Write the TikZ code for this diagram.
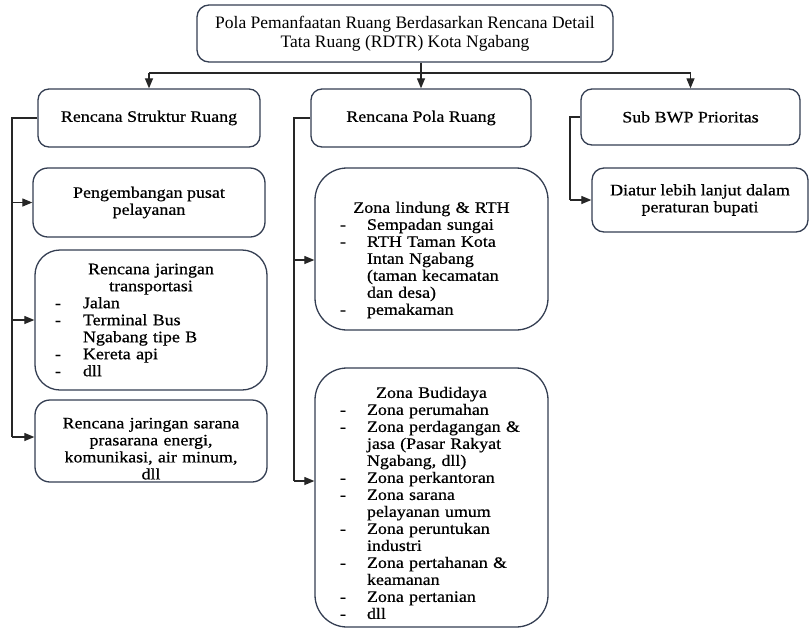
\documentclass[tikz,border=0pt]{standalone}
\usepackage{fontspec}
\setmainfont{Liberation Serif}
\newfontfamily\wf[FakeStretch=1.12,FakeBold=0.6]{Liberation Serif}
\usetikzlibrary{arrows.meta}
\definecolor{bxc}{RGB}{52,62,82}
\newcommand\Litm[1]{\makebox[40pt][l]{\hspace{12pt}-}#1}
\newcommand\Lcnt{\hspace*{40pt}}
\newcommand\Mitm[1]{\makebox[44pt][l]{\hspace{17pt}-}#1}
\newcommand\Mcnt{\hspace*{44pt}}
\newcommand\Ctr[1]{\makebox[\hsize][c]{#1}}
\tikzset{
  bx/.style={draw=bxc, line width=1.3pt, rounded corners=#1, fill=white,
    font=\wf\fontsize{16}{17}\selectfont, align=center, inner sep=0pt},
  bx/.default=10pt,
  conn/.style={line width=1.2pt, draw=black!85},
  arr/.style={conn, -{Triangle[length=10pt,width=8pt]}},
}
\begin{document}
\begin{tikzpicture}[x=1pt,y=-1pt]
\useasboundingbox (0,0) rectangle (812,630);

\node[bx=12pt, minimum width=416pt, minimum height=57pt, font=\fontsize{17.5}{19}\selectfont] (top) at (405,33.5)
  {Pola Pemanfaatan Ruang Berdasarkan Rencana Detail\\Tata Ruang (RDTR) Kota Ngabang};

\node[bx=11pt, minimum width=222pt, minimum height=58pt] (rs) at (149,118) {Rencana Struktur Ruang};
\node[bx=11pt, minimum width=220pt, minimum height=58pt] (pola) at (421,118) {Rencana Pola Ruang};
\node[bx=11pt, minimum width=219pt, minimum height=56pt] (sub) at (690.5,117) {Sub BWP Prioritas};

\node[bx=15pt, minimum width=232pt, minimum height=69pt] (pen) at (149,202.5) {Pengembangan pusat\\pelayanan};
\node[bx=25pt, minimum width=232pt, minimum height=140pt, text width=216pt, align=left] (tra) at (151,320)
  {\Ctr{Rencana jaringan}\\
   \Ctr{transportasi}\\
   \Litm{Jalan}\\
   \Litm{Terminal Bus}\\
   \Lcnt Ngabang tipe B\\
   \Litm{Kereta api}\\
   \Litm{dll}};
\node[bx=15pt, minimum width=232pt, minimum height=82pt, text width=216pt] (sar) at (151,441)
  {\rule{0pt}{26pt}Rencana jaringan sarana\\prasarana energi,\\komunikasi, air minum,\\dll};

\node[bx=32pt, minimum width=233pt, minimum height=162pt, text width=217pt, align=left] (lind) at (431.5,249)
  {\rule{0pt}{33pt}\Ctr{Zona lindung \& RTH}\\
   \Mitm{Sempadan sungai}\\
   \Mitm{RTH Taman Kota}\\
   \Mcnt Intan Ngabang\\
   \Mcnt (taman kecamatan\\
   \Mcnt dan desa)\\
   \Mitm{pemakaman}};
\node[bx=32pt, minimum width=233pt, minimum height=259pt, text width=217pt, align=left] (bud) at (431.5,497.5)
  {\rule{0pt}{22pt}\Ctr{Zona Budidaya}\\
   \Mitm{Zona perumahan}\\
   \Mitm{Zona perdagangan \&}\\
   \Mcnt jasa (Pasar Rakyat\\
   \Mcnt Ngabang, dll)\\
   \Mitm{Zona perkantoran}\\
   \Mitm{Zona sarana}\\
   \Mcnt pelayanan umum\\
   \Mitm{Zona peruntukan}\\
   \Mcnt industri\\
   \Mitm{Zona pertahanan \&}\\
   \Mcnt keamanan\\
   \Mitm{Zona pertanian}\\
   \Mitm{dll}};

\node[bx=12pt, minimum width=216pt, minimum height=64pt] (diat) at (700,200) {Diatur lebih lanjut dalam\\peraturan bupati};

% top connectors
\coordinate (hj) at (0,73);
\draw[conn] (hj -| rs.north) -- (hj -| sub.north);
\draw[arr] (hj -| rs.north) -- (rs.north);
\draw[arr] (hj -| sub.north) -- (sub.north);
\draw[arr] (top.south -| pola.north) -- (pola.north);

% left column
\coordinate (l3) at (12,437);
\draw[conn] (rs.west) -| (l3);
\draw[arr] (l3 |- pen.west) -- (pen.west);
\draw[arr] (l3 |- tra.west) -- (tra.west);
\draw[arr] (l3) -- (l3 -| sar.west);

% middle column
\coordinate (m1) at (294,260);
\coordinate (m2) at (294,481);
\draw[conn] (pola.west) -| (m2);
\draw[arr] (m1) -- (m1 -| lind.west);
\draw[arr] (m2) -- (m2 -| bud.west);

% right column
\coordinate (r1) at (570,200);
\draw[conn] (sub.west) -| (r1);
\draw[arr] (r1) -- (diat.west);
\end{tikzpicture}
\end{document}
